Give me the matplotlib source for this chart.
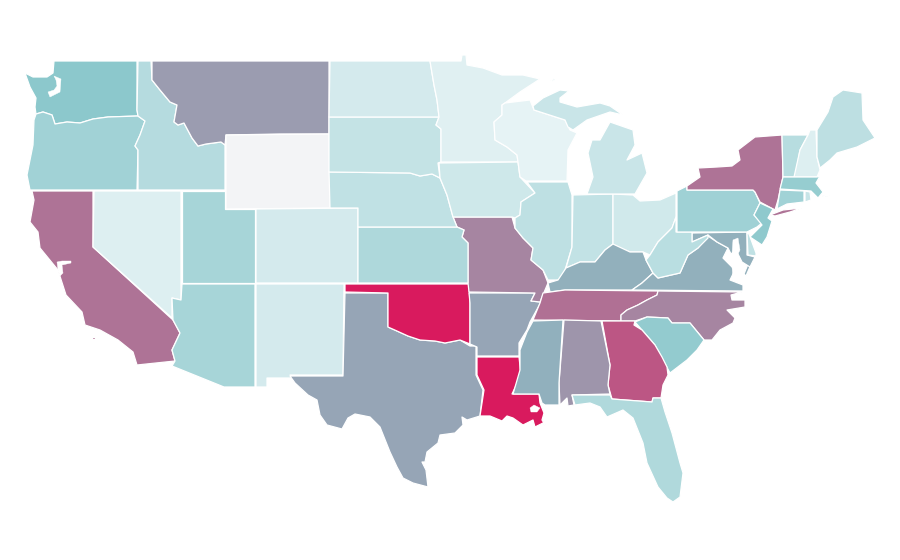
# -*- coding: utf-8 -*-
"""
US states choropleth, outlines traced by hand in pixel space
"""

import matplotlib
matplotlib.use("Agg")
import matplotlib.pyplot as plt
from matplotlib.colors import LinearSegmentedColormap
from matplotlib.patches import Polygon

states = ["WA", "OR", "CA", "NV", "ID", "MT", "WY", "UT", "AZ", "CO", "NM", "TX", "OK", "LA",
          "AR", "MO", "KS", "NE", "SD", "ND", "MN", "IA", "WI", "IL", "IN", "OH", "MI",
          "KY", "TN", "VA", "MD", "WV", "PA", "NY", "VT", "NH", "ME", "MA", "CT", "RI",
          "NJ", "DE", "NC", "SC", "GA", "AL", "MS", "FL"]
values = [35, 27.9, 69.7, 7.8, 21.4, 56, 0, 25.8, 25.8, 10.9, 10.9, 52.8, 100, 100,
          53, 64, 23.8, 17.3, 16.3, 10.9, 6.5, 12.6, 4.4, 18, 16.6, 12, 14.3,
          49, 71, 49, 49, 19.7, 28.9, 69.7, 20.7, 7.8, 18.7, 32, 27.9, 15,
          34.3, 17.3, 64, 32.6, 79.5, 58.5, 48.5, 22.8]

# outlines, every state is a list of parts
outlines = {
    "WA": [[(54,61),(137,61),(137,110),(138,116),(108,117),(93,119),(80,123),(67,122),(55,124),(52,115),(43,112),(36,114),(35,107),(36,98),(30,87),(25,73),(33,77),(47,77),(53,73)]],
    "OR": [[(36,114),(43,112),(52,115),(55,124),(67,122),(80,123),(93,119),(108,117),(138,116),(145,121),(140,135),(135,146),(138,150),(137,190),(30,190),(27,175),(33,145),(34,120)]],
    "CA": [[(32,191),(93,191),(93,247),(173,320),(180,333),(172,350),(175,361),(137,365),(133,352),(118,340),(100,330),(85,325),(82,312),(66,295),(58,270),(40,248),(38,232),(30,222),(34,200)],
           [(92,337),(95,337),(95,339),(92,339)]],
    "NV": [[(94,191),(181,191),(181,300),(172,298),(172,318),(93,247)]],
    "ID": [[(138,61),(151,61),(152,80),(160,90),(170,102),(177,105),(174,122),(178,125),(184,123),(192,138),(198,146),(206,144),(221,142),(225,145),(225,190),(138,190),(138,150),(135,146),(140,135),(145,121),(138,116),(137,110)]],
    "MT": [[(152,61),(329,61),(329,134),(280,134),(226,135),(225,145),(221,142),(206,144),(198,146),(192,138),(184,123),(178,125),(174,122),(177,105),(170,102),(160,90),(152,80)]],
    "WY": [[(226,135),(329,134),(330,208),(226,209)]],
    "UT": [[(182,191),(225,191),(225,209),(255,209),(255,283),(182,283)]],
    "AZ": [[(182,284),(255,284),(255,387),(224,387),(172,366),(175,361),(172,350),(180,333),(173,320),(172,298),(181,300)]],
    "CO": [[(256,209),(358,208),(358,283),(256,283)]],
    "NM": [[(256,284),(344,284),(343,375),(290,375),(294,378),(267,378),(267,387),(256,387)]],
    "TX": [[(345,293),(388,293),(388,327),(397,331),(408,336),(420,340),(435,341),(445,343),(460,340),(470,346),(476,346),(476,375),(483,390),(480,416),(467,420),(462,417),(463,425),(455,433),(440,435),(438,443),(427,452),(425,462),(422,462),(426,470),(428,487),(413,483),(403,478),(397,467),(390,452),(380,427),(370,417),(355,414),(348,418),(342,429),(327,425),(320,415),(317,400),(308,395),(295,383),(290,376),(343,376)]],
    "OK": [[(345,284),(469,284),(470,303),(470,344),(460,340),(445,343),(435,341),(420,340),(408,336),(397,331),(388,327),(388,293),(345,292)]],
    "LA": [[(477,357),(519,357),(521,375),(512,394),(539,394),(540,403),(544,413),(542,420),(548,429),(543,423),(535,427),(533,420),(523,425),(513,418),(507,416),(502,421),(490,416),(480,416),(484,390),(477,375)]],
    "AR": [[(469,293),(535,293),(531,301),(541,302),(535,313),(530,322),(527,330),(519,343),(519,356),(477,356),(477,347),(470,344),(470,303)]],
    "MO": [[(453,217),(512,217),(515,228),(523,238),(533,248),(531,260),(543,270),(548,283),(540,302),(531,301),(535,293),(469,292),(468,283),(468,243),(462,237),(464,230),(457,227)]],
    "KS": [[(358,227),(457,227),(464,230),(462,237),(468,243),(468,283),(358,283)]],
    "NE": [[(329,172),(410,173),(420,176),(432,174),(440,178),(447,195),(453,217),(457,227),(358,227),(358,208),(330,208)]],
    "SD": [[(329,117),(439,117),(436,125),(441,129),(441,162),(438,163),(440,178),(432,174),(420,176),(410,173),(329,172)]],
    "ND": [[(330,61),(430,61),(434,85),(437,100),(439,117),(329,117)]],
    "MN": [[(430,61),(461,61),(462,55),(466,55),(467,65),(483,68),(502,75),(523,75),(540,79),(520,92),(505,103),(502,105),(502,115),(494,122),(495,140),(507,147),(517,155),(518,162),(441,162),(441,129),(436,125),(439,117),(437,100),(434,85)]],
    "IA": [[(439,163),(518,162),(520,177),(535,193),(521,202),(520,215),(515,218),(512,217),(453,217),(447,195),(440,178)]],
    "WI": [[(502,105),(505,103),(530,100),(534,110),(565,120),(570,130),(577,133),(568,150),(567,181),(526,181),(520,177),(518,162),(517,155),(507,147),(495,140),(494,122),(502,115)]],
    "IL": [[(527,182),(568,182),(572,195),(572,247),(565,270),(560,280),(548,280),(543,270),(531,260),(533,248),(523,238),(515,228),(515,218),(520,215),(521,202),(535,193)]],
    "IN": [[(573,195),(613,194),(613,244),(605,250),(595,262),(580,262),(566,268),(572,247)]],
    "OH": [[(613,194),(633,195),(640,201),(660,200),(676,193),(676,217),(672,228),(658,242),(650,255),(643,252),(630,252),(613,245)]],
    "MI": [[(587,194),(635,194),(647,173),(642,153),(627,160),(635,145),(633,130),(610,122),(600,140),(592,140),(588,153),(593,177)],
           [(533,106),(543,98),(560,90),(569,91),(560,98),(560,102),(577,107),(600,103),(610,106),(623,115),(610,112),(587,120),(573,130),(568,127),(565,120),(534,110)],
           [(549,82),(555,78),(555,80),(551,82)]],
    "KY": [[(566,268),(580,262),(595,262),(605,250),(613,244),(630,252),(643,252),(646,260),(653,273),(642,283),(632,290),(600,290),(565,290),(550,292),(548,283),(558,280)]],
    "TN": [[(543,293),(565,290),(658,291),(657,295),(647,300),(638,305),(627,310),(621,315),(621,321),(533,320),(540,303)]],
    "VA": [[(632,290),(642,283),(653,273),(658,278),(680,273),(688,255),(698,248),(708,236),(717,242),(728,248),(723,258),(735,270),(730,280),(743,285),(743,291)],
           [(748,264),(752,262),(746,276),(744,274)]],
    "MD": [[(692,233),(747,232),(747,255),(755,257),(750,267),(742,262),(736,250),(731,254),(728,248),(717,242),(708,235),(692,242)]],
    "WV": [[(676,217),(676,232),(692,232),(692,242),(708,235),(708,238),(698,248),(688,255),(680,273),(658,278),(653,273),(646,260),(650,255),(658,242),(672,228)]],
    "PA": [[(687,190),(753,190),(755,192),(760,203),(754,215),(762,223),(757,227),(747,232),(677,232),(677,191),(687,186)]],
    "NY": [[(687,190),(687,186),(700,177),(698,168),(717,167),(732,166),(740,160),(738,150),(755,137),(782,135),(783,177),(778,200),(775,210),(760,202),(755,192),(753,190)],
           [(770,215),(783,210),(802,208),(790,212),(775,216)]],
    "VT": [[(782,135),(808,135),(800,150),(795,177),(783,177)]],
    "NH": [[(810,130),(816,130),(817,157),(820,170),(817,177),(794,177),(800,150),(808,135)]],
    "ME": [[(817,130),(828,112),(833,97),(843,90),(862,93),(863,120),(875,138),(857,147),(837,153),(830,160),(820,168),(817,157)]],
    "MA": [[(783,177),(817,177),(820,176),(816,183),(823,192),(818,198),(811,191),(780,189)],
           [(822,196),(830,195),(826,197)]],
    "CT": [[(780,190),(804,191),(804,202),(787,204),(777,209)]],
    "RI": [[(805,191),(810,192),(811,200),(805,202)]],
    "NJ": [[(760,203),(773,209),(768,218),(772,221),(767,237),(762,245),(750,237),(762,225),(754,215)]],
    "DE": [[(747,233),(749,234),(756,253),(756,256),(748,255)]],
    "NC": [[(658,291),(742,292),(731,295),(732,300),(745,300),(745,307),(727,310),(735,318),(733,323),(720,330),(712,340),(704,340),(690,323),(672,323),(668,318),(647,317),(635,321),(621,321),(621,315),(627,310),(638,305),(647,300),(657,295)]],
    "SC": [[(635,322),(647,317),(668,318),(672,323),(690,323),(704,340),(697,350),(687,360),(670,373),(663,360),(655,345),(642,330)]],
    "GA": [[(602,321),(635,321),(634,325),(642,330),(655,345),(662,357),(667,367),(668,375),(663,385),(661,398),(653,398),(652,402),(612,399),(608,385),(610,365)]],
    "AL": [[(564,320),(601,321),(610,365),(608,385),(610,394),(572,395),(574,405),(568,406),(567,398),(560,405),(559,383)]],
    "MS": [[(533,321),(563,320),(559,383),(559,405),(545,405),(542,403),(539,394),(513,394),(520,370),(520,350),(527,332)]],
    "FL": [[(572,395),(610,395),(612,399),(652,402),(653,398),(661,398),(665,412),(672,433),(680,463),(683,473),(680,497),(673,502),(667,498),(658,487),(647,463),(643,443),(633,418),(623,410),(607,417),(600,407),(590,403),(575,405)]],
}

# bays cut out of the land
water = [
    [(54,76),(61,79),(60,92),(50,97),(48,92),(54,90),(57,86),(56,80)],
    [(58,270),(57,262),(62,261),(71,261),(71,263),(62,265),(63,273),(60,276)],
    [(733,240),(738,238),(740,250),(736,258),(732,254)],
    [(732,267),(738,268),(740,280),(737,283),(733,279)],
    [(530,408),(534,405),(540,408),(537,412),(531,412)],
]

# light grey -> pale teal -> teal -> slate -> crimson
cmap = LinearSegmentedColormap.from_list(
    "ramp",
    [(0, "#f3f4f6"), (0.044, "#e6f3f5"), (0.35, "#8cc8cc"), (0.5, "#92aebb"), (1, "#d91a5e")],
)

fig = plt.figure(figsize=(9, 5.6), dpi=100)
ax = fig.add_axes([0, 0, 1, 1])

for state, value in zip(states, values):
    for part in outlines[state]:
        ax.add_patch(Polygon(part, closed=True, facecolor=cmap(value / 100),
                             edgecolor="white", linewidth=0.9, joinstyle="round"))

for bay in water:
    ax.add_patch(Polygon(bay, closed=True, facecolor="white", edgecolor="white", linewidth=0.3))

ax.set_xlim(0, 900)
ax.set_ylim(560, 0)
ax.axis("off")

plt.savefig("out.png", dpi=100)
